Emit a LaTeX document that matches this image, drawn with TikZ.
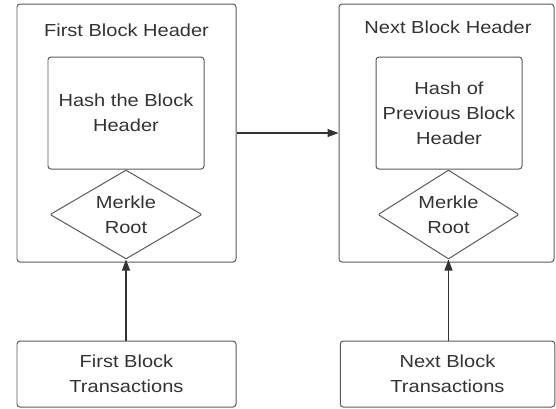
\documentclass[tikz,border=0pt]{standalone}
\usepackage{fontspec}
\setmainfont{Liberation Sans}[FakeStretch=1.15]
\usetikzlibrary{shapes.geometric}
\usetikzlibrary{arrows.meta}

\definecolor{boxline}{HTML}{5A5A5A}
\definecolor{ink}{HTML}{333333}

\begin{document}
\begin{tikzpicture}[
    x=1bp, y=-1bp,
    every node/.append style={
      text=ink, font=\fontsize{17.5}{25}\selectfont, align=center,
      inner sep=0pt},
    blockbox/.style={draw=boxline, line width=1pt, rounded corners=3bp},
    merkle/.style={draw=boxline, line width=1pt, fill=white, shape=diamond,
      aspect=1.7, rounded corners=1bp},
    link/.style={draw=ink, line width=1.1pt,
      -{Triangle[length=11bp, width=8bp]}},
  ]
  \useasboundingbox (0,0) rectangle (556,408);

  \node[blockbox, minimum width=219bp, minimum height=258bp] (first) at (126.5,133) {};
  \node (firsttitle) at (126.5,30) {First Block Header};
  \node[blockbox, minimum width=156bp, minimum height=112bp] (firsthash) at (126,113)
    {Hash the Block\\Header};
  \node[merkle, minimum width=152bp, minimum height=89bp] (firstroot) at (126,214.5)
    {Merkle\\Root};

  \node[blockbox, minimum width=215bp, minimum height=258bp] (next) at (446.5,133) {};
  \node (nexttitle) at (448,27) {Next Block Header};
  \node[blockbox, minimum width=146bp, minimum height=112bp] (nexthash) at (449,113)
    {Hash of\\Previous Block\\Header};
  \node[merkle, minimum width=141bp, minimum height=89bp] (nextroot) at (448.5,214.5)
    {Merkle\\Root};

  \node[blockbox, minimum width=219bp, minimum height=66bp] (firsttx) at (126.5,374)
    {First Block\\Transactions};
  \node[blockbox, minimum width=214.5bp, minimum height=66bp] (nexttx) at (447.5,374)
    {Next Block\\Transactions};

  \draw[link] (first.east) -- (next.west);
  \draw[link] (firstroot.south |- firsttx.north) -- (firstroot.south);
  \draw[link] (nextroot.south |- nexttx.north) -- (nextroot.south);
\end{tikzpicture}
\end{document}
